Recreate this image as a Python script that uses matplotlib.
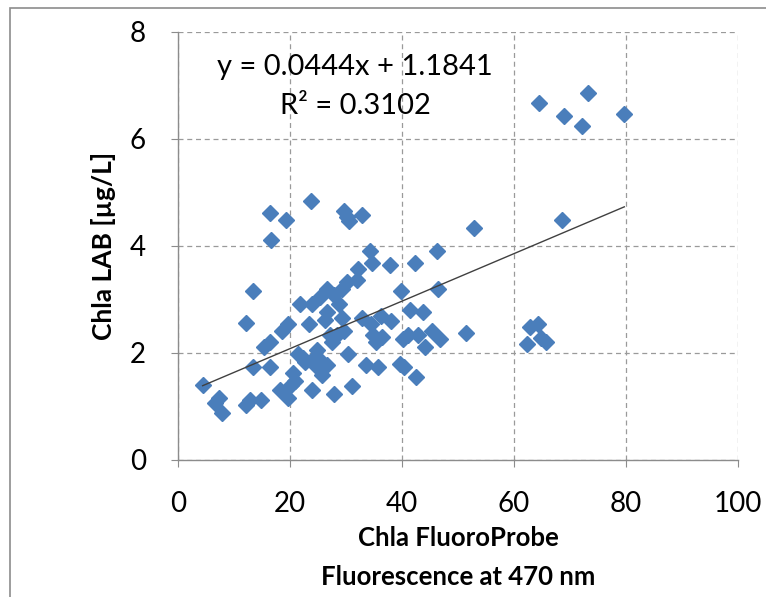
import numpy as np
import matplotlib
matplotlib.use("Agg")
import matplotlib.pyplot as plt
from matplotlib.patches import Rectangle

# FluoroProbe chla (x) vs lab chla (y)
fp_chla = [4.4, 6.6, 7.4, 7.9, 12.2, 12.9, 12.2, 13.4, 13.4, 14.8,
           15.3, 16.4, 16.4, 16.4, 16.6, 19.2, 18.6, 19.7, 18.3, 19.7,
           20.1, 20.5, 20.9, 21.8, 21.4, 22.3, 22.7, 23.4, 23.8, 24.0,
           24.0, 24.0, 24.5, 24.9, 25.3, 25.8, 25.8, 26.2, 26.6, 26.6,
           26.6, 27.1, 27.5, 27.9, 27.9, 28.4, 28.8, 29.3, 29.3, 29.7,
           30.1, 30.6, 29.7, 30.1, 30.4, 31.0, 31.9, 32.1, 32.8, 32.8,
           33.6, 34.3, 34.7, 34.5, 34.9, 35.4, 35.8, 36.2, 36.5, 37.8,
           38.0, 39.9, 39.7, 40.4, 40.2, 41.0, 41.5, 42.4, 42.5, 42.8,
           43.7, 44.1, 45.4, 46.3, 46.5, 46.7, 51.4, 52.8, 62.3, 62.9,
           64.2, 64.5, 64.9, 65.8, 68.6, 69.0, 72.1, 73.2, 79.7]
lab_chla = [1.40, 1.05, 1.15, 0.87, 1.01, 1.12, 2.56, 3.15, 1.72, 1.12,
            2.11, 2.20, 1.72, 4.60, 4.11, 4.48, 2.40, 2.53, 1.30, 1.15,
            1.40, 1.62, 1.47, 2.90, 1.97, 1.90, 1.83, 2.54, 4.83, 2.90,
            1.30, 1.86, 1.76, 2.04, 3.04, 1.58, 1.83, 2.61, 1.76, 2.75,
            3.18, 2.33, 2.19, 1.22, 3.07, 2.33, 2.90, 2.65, 3.18, 4.65,
            4.53, 4.46, 2.40, 3.32, 1.97, 1.37, 3.36, 3.57, 4.57, 2.65,
            1.76, 3.89, 3.68, 2.54, 2.33, 2.19, 1.72, 2.68, 2.29, 3.64,
            2.58, 3.15, 1.79, 1.72, 2.26, 2.33, 2.79, 3.68, 1.54, 2.33,
            2.75, 2.11, 2.40, 3.89, 3.18, 2.26, 2.36, 4.33, 2.15, 2.47,
            2.54, 6.67, 2.27, 2.20, 4.48, 6.42, 6.23, 6.85, 6.46]

slope, intercept = 0.0444, 1.1841
eq_text = "y = 0.0444x + 1.1841"
r2_text = "R² = 0.3102"

xticks = [0, 20, 40, 60, 80, 100]
yticks = [0, 2, 4, 6, 8]

plt.rcParams['font.family'] = ['Lato', 'DejaVu Sans']

fig = plt.figure(figsize=(7.66, 5.97), dpi=100)
ax = fig.add_axes([178/766, 1 - 459.5/597, 560/766, 428/597])

ax.plot(fp_chla, lab_chla, ls="none", marker="D", ms=8.5,
        color="#4A7EBB", mec="#4A7EBB", zorder=3)

xl = np.array([min(fp_chla), max(fp_chla)])
ax.plot(xl, slope * xl + intercept, color="#404040", lw=1.0, zorder=4)

ax.set_xlim(0, 100)
ax.set_ylim(0, 8)
ax.set_xticks(xticks)
ax.set_yticks(yticks)
ax.grid(True, color="#9a9a9a", ls=(0, (4, 3)), lw=0.9)
ax.set_axisbelow(True)
for s in ["top", "right"]:
    ax.spines[s].set_visible(False)
for s in ["left", "bottom"]:
    ax.spines[s].set_color("#8c8c8c")
    ax.spines[s].set_linewidth(1.0)
ax.tick_params(axis="both", direction="out", length=5, color="#8c8c8c",
               labelsize=20, pad=18)

ax.set_ylabel("Chla LAB [µg/L]", fontsize=19, fontweight="bold", labelpad=10)
ax.set_xlabel("Chla FluoroProbe\nFluorescence at 470 nm", fontsize=18.5,
              fontweight="bold", linespacing=1.75, labelpad=6)

ax.text(31.6, 7.34, eq_text, fontsize=21, ha="center", va="center")
ax.text(31.6, 6.61, r2_text, fontsize=21, ha="center", va="center")

# chart-area border (only top and left edges fall inside the picture)
fig.patches.append(Rectangle((10/766, -0.5), 2, 1.5 - 8/597,
                             transform=fig.transFigure, fill=False,
                             ec="#8c8c8c", lw=1.2))

fig.savefig("out.png", dpi=100)
